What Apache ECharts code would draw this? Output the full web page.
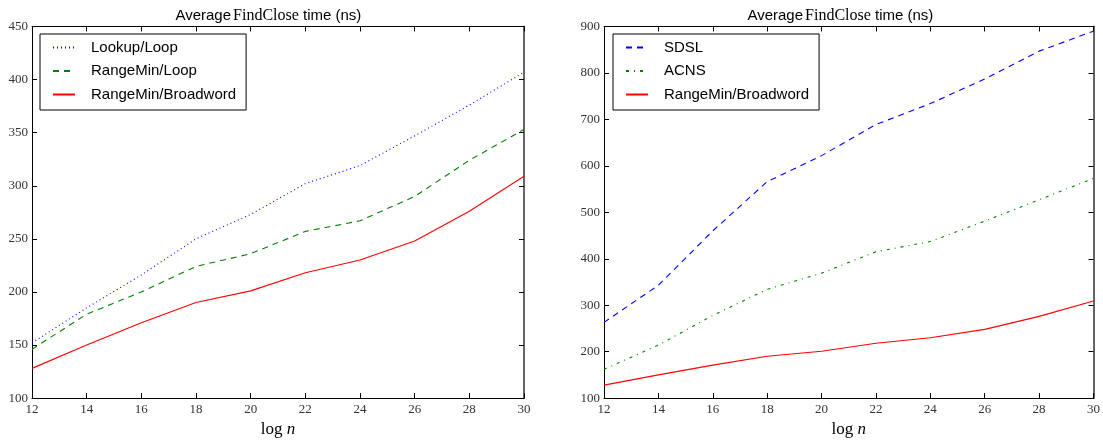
<!DOCTYPE html>
<html>
<head>
<meta charset="utf-8">
<script src="https://cdn.jsdelivr.net/npm/echarts@6/dist/echarts.min.js"></script>
<style>
  html, body { margin: 0; padding: 0; background: #fff; }
  #main { width: 1103px; height: 443px; }
</style>
</head>
<body>
<div id="main"></div>
<script>
// log n on the x axis
var logN = [12, 14, 16, 18, 20, 22, 24, 26, 28, 30];
// left panel
var lookupLoop = [152, 185, 216, 250, 273, 302, 319, 347, 376, 407];
var rangeMinLoop = [146, 179, 200, 224, 236, 257, 267, 290, 324, 353];
var rangeMinBroadword = [128, 150, 171, 190, 201, 218, 230, 248, 276, 309];
// right panel
var sdsl = [263, 343, 460, 566, 622, 689, 734, 787, 847, 890];
var acns = [162, 214, 278, 334, 369, 415, 437, 481, 527, 573];

var serif = 'Liberation Serif';
var sans = 'Liberation Sans';

function pairs(ys) {
  return logN.map(function (x, i) { return [x, ys[i]]; });
}

var chart = echarts.init(document.getElementById('main'));

var nameRich = {
  r: { fontFamily: serif, fontSize: 17, color: '#000' },
  i: { fontFamily: serif, fontSize: 17, fontStyle: 'italic', color: '#000' }
};

// title in three pieces: sans / roman FindClose / sans
function titleParts(dx) {
  function piece(x, text, family, size, align) {
    return {
      text: text, left: x + dx, top: 8, textAlign: align, padding: 0,
      textStyle: { fontFamily: family, fontSize: size, fontWeight: 'normal', color: '#000' }
    };
  }
  return [
    piece(231, 'Average', sans, 15, 'right'),
    piece(266, 'FindClose', serif, 16, 'center'),
    piece(303, 'time (ns)', sans, 15, 'left')
  ];
}

function xAxes(grid) {
  return [{
    type: 'value', gridIndex: grid, min: 12, max: 30, interval: 2,
    position: 'bottom',
    name: '{r|log }{i|n}', nameLocation: 'middle', nameGap: 22,
    nameTextStyle: { rich: nameRich },
    axisLine: { lineStyle: { color: '#000', width: 1 } },
    axisTick: { inside: true, length: 5, lineStyle: { color: '#000' } },
    axisLabel: { fontFamily: serif, fontSize: 13, color: '#333', margin: 5 },
    splitLine: { show: false }
  }, {
    type: 'value', gridIndex: grid, min: 12, max: 30, interval: 2,
    position: 'top',
    axisLine: { lineStyle: { color: '#000', width: 1 } },
    axisTick: { inside: true, length: 5, lineStyle: { color: '#000' } },
    axisLabel: { show: false },
    splitLine: { show: false }
  }];
}

function yAxes(grid, min, max, step) {
  return [{
    type: 'value', gridIndex: grid, min: min, max: max, interval: step,
    position: 'left',
    axisLine: { show: true, lineStyle: { color: '#000', width: 1 } },
    axisTick: { show: true, inside: true, length: 5, lineStyle: { color: '#000' } },
    axisLabel: { fontFamily: serif, fontSize: 13, color: '#333', margin: 4 },
    splitLine: { show: false }
  }, {
    type: 'value', gridIndex: grid, min: min, max: max, interval: step,
    position: 'right',
    axisLine: { show: true, lineStyle: { color: '#666', width: 2 } },
    axisTick: { show: true, inside: true, length: 5, lineStyle: { color: '#000' } },
    axisLabel: { show: false },
    splitLine: { show: false }
  }];
}

function legend(left, names) {
  return {
    orient: 'vertical', left: left, top: 34,
    data: names,
    itemWidth: 22, itemHeight: 14, itemGap: 8.5,
    padding: [6, 10, 8, 12],
    borderColor: '#000', borderWidth: 1,
    itemStyle: { opacity: 0 },
    textStyle: { fontFamily: sans, fontSize: 15, color: '#000', padding: [0, 0, 0, 11] },
    selectedMode: false
  };
}

function line(name, data, x, y, color, type) {
  return {
    name: name, type: 'line', data: pairs(data),
    xAxisIndex: x, yAxisIndex: y,
    showSymbol: false, symbol: 'none',
    lineStyle: { color: color, width: 1.1, type: type },
    itemStyle: { color: color },
    animation: false
  };
}

var option = {
  backgroundColor: '#fff',
  animation: false,
  title: titleParts(0).concat(titleParts(572)),
  grid: [
    { left: 32, width: 492, top: 26.5, height: 379.5 },
    { left: 604, width: 492, top: 26.5, height: 379.5 }
  ],
  legend: [
    legend(40, ['Lookup/Loop', 'RangeMin/Loop', 'RangeMin/Broadword']),
    legend(613, ['SDSL', 'ACNS', 'RangeMin/Broadword'])
  ],
  xAxis: xAxes(0).concat(xAxes(1)),
  yAxis: yAxes(0, 100, 450, 50).concat(yAxes(1, 100, 900, 100)),
  series: [
    line('Lookup/Loop', lookupLoop, 0, 0, '#0000ff', [1, 3]),
    line('RangeMin/Loop', rangeMinLoop, 0, 0, '#008000', [6, 5]),
    line('RangeMin/Broadword', rangeMinBroadword, 0, 0, '#ff0000', 'solid'),
    line('SDSL', sdsl, 2, 2, '#0000ff', [6, 5]),
    line('ACNS', acns, 2, 2, '#008000', [3, 5, 1, 5]),
    line('RangeMin/Broadword', rangeMinBroadword, 2, 2, '#ff0000', 'solid')
  ]
};

chart.setOption(option);
</script>
</body>
</html>
